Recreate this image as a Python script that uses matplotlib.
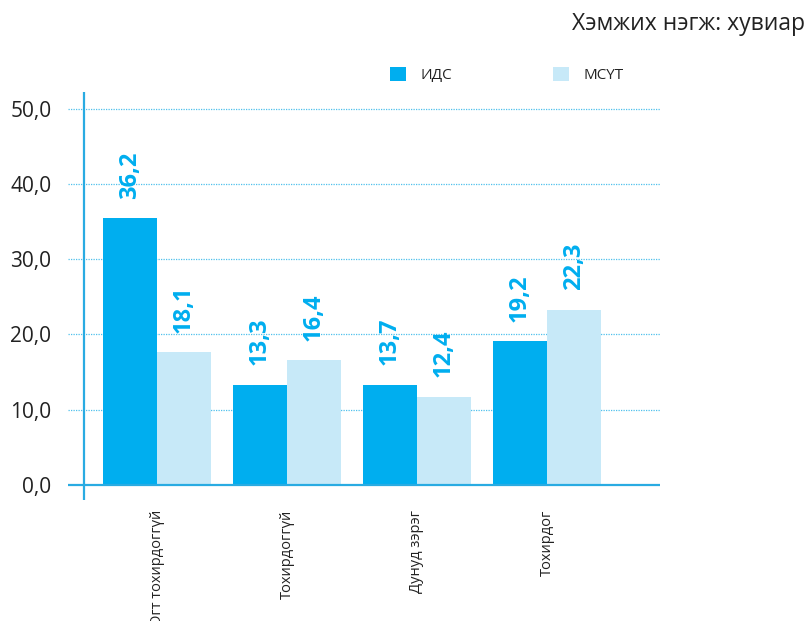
import matplotlib
matplotlib.use("Agg")
import matplotlib.pyplot as plt
import numpy as np

categories = ["Огт тохирдоггүй", "Тохирдоггүй", "Дунуд зэрэг", "Тохирдог"]
series_names = ["ИДС", "МСҮТ"]
ids_values = [35.4, 13.3, 13.3, 19.1]
msut_values = [17.6, 16.6, 11.7, 23.3]
ids_labels = ["36,2", "13,3", "13,7", "19,2"]
msut_labels = ["18,1", "16,4", "12,4", "22,3"]
y_ticks = [0, 10, 20, 30, 40, 50]
y_tick_labels = ["0,0", "10,0", "20,0", "30,0", "40,0", "50,0"]
unit_text = "Хэмжих нэгж: хувиар"

DARK = "#00AEEF"
LIGHT = "#C7E9F8"
TEXT = "#222222"

plt.rcParams["font.family"] = ["Open Sans", "DejaVu Sans"]

W, H = 811, 621
fig = plt.figure(figsize=(W / 100, H / 100), dpi=100)
ax = fig.add_axes([68 / W, 1 - 500 / H, (660 - 68) / W, (500 - 92) / H])

x = np.arange(len(categories))
bw = 0.415
ax.set_xlim(-0.685, 3.87)
ax.set_ylim(-2.0, 52.2)

for s in ax.spines.values():
    s.set_visible(False)

# gridlines
for yt in y_ticks[1:]:
    ax.axhline(yt, color="#4FC0EC", lw=0.9, ls=(0, (1, 1)), zorder=0)
ax.axhline(0, color="#29ABE2", lw=1.6, zorder=3)
ax.axvline(-0.56, color="#29ABE2", lw=1.6, zorder=3)

b1 = ax.bar(x - bw / 2, ids_values, bw, color=DARK, label=series_names[0], zorder=2)
b2 = ax.bar(x + bw / 2, msut_values, bw, color=LIGHT, label=series_names[1], zorder=2)

for bars, labels in ((b1, ids_labels), (b2, msut_labels)):
    for rect, lab in zip(bars, labels):
        ax.annotate(lab, (rect.get_x() + rect.get_width() / 2, rect.get_height()),
                    xytext=(0, 14), textcoords="offset points",
                    rotation=90, ha="center", va="bottom",
                    fontsize=17, fontweight="bold", color=DARK)

ax.set_yticks(y_ticks)
ax.set_yticklabels(y_tick_labels, fontsize=15, color=TEXT)
ax.set_xticks(x)
ax.set_xticklabels(categories, rotation=90, fontsize=10.5, color=TEXT, va="top", ha="center")
ax.tick_params(axis="both", length=0)
ax.tick_params(axis="y", pad=12)
ax.tick_params(axis="x", pad=7)

leg = ax.legend(loc="center left", bbox_to_anchor=(390 / W, 1 - 75 / H),
                bbox_transform=fig.transFigure, ncol=2, frameon=False,
                fontsize=11, handlelength=1.05, handleheight=1.05,
                handletextpad=0.95, columnspacing=6.6, borderpad=0, borderaxespad=0)
for t in leg.get_texts():
    t.set_color(TEXT)

fig.text(805 / W, 1 - 24 / H, unit_text, ha="right", va="center", fontsize=16.5, color=TEXT)

fig.savefig("out.png", dpi=100)
